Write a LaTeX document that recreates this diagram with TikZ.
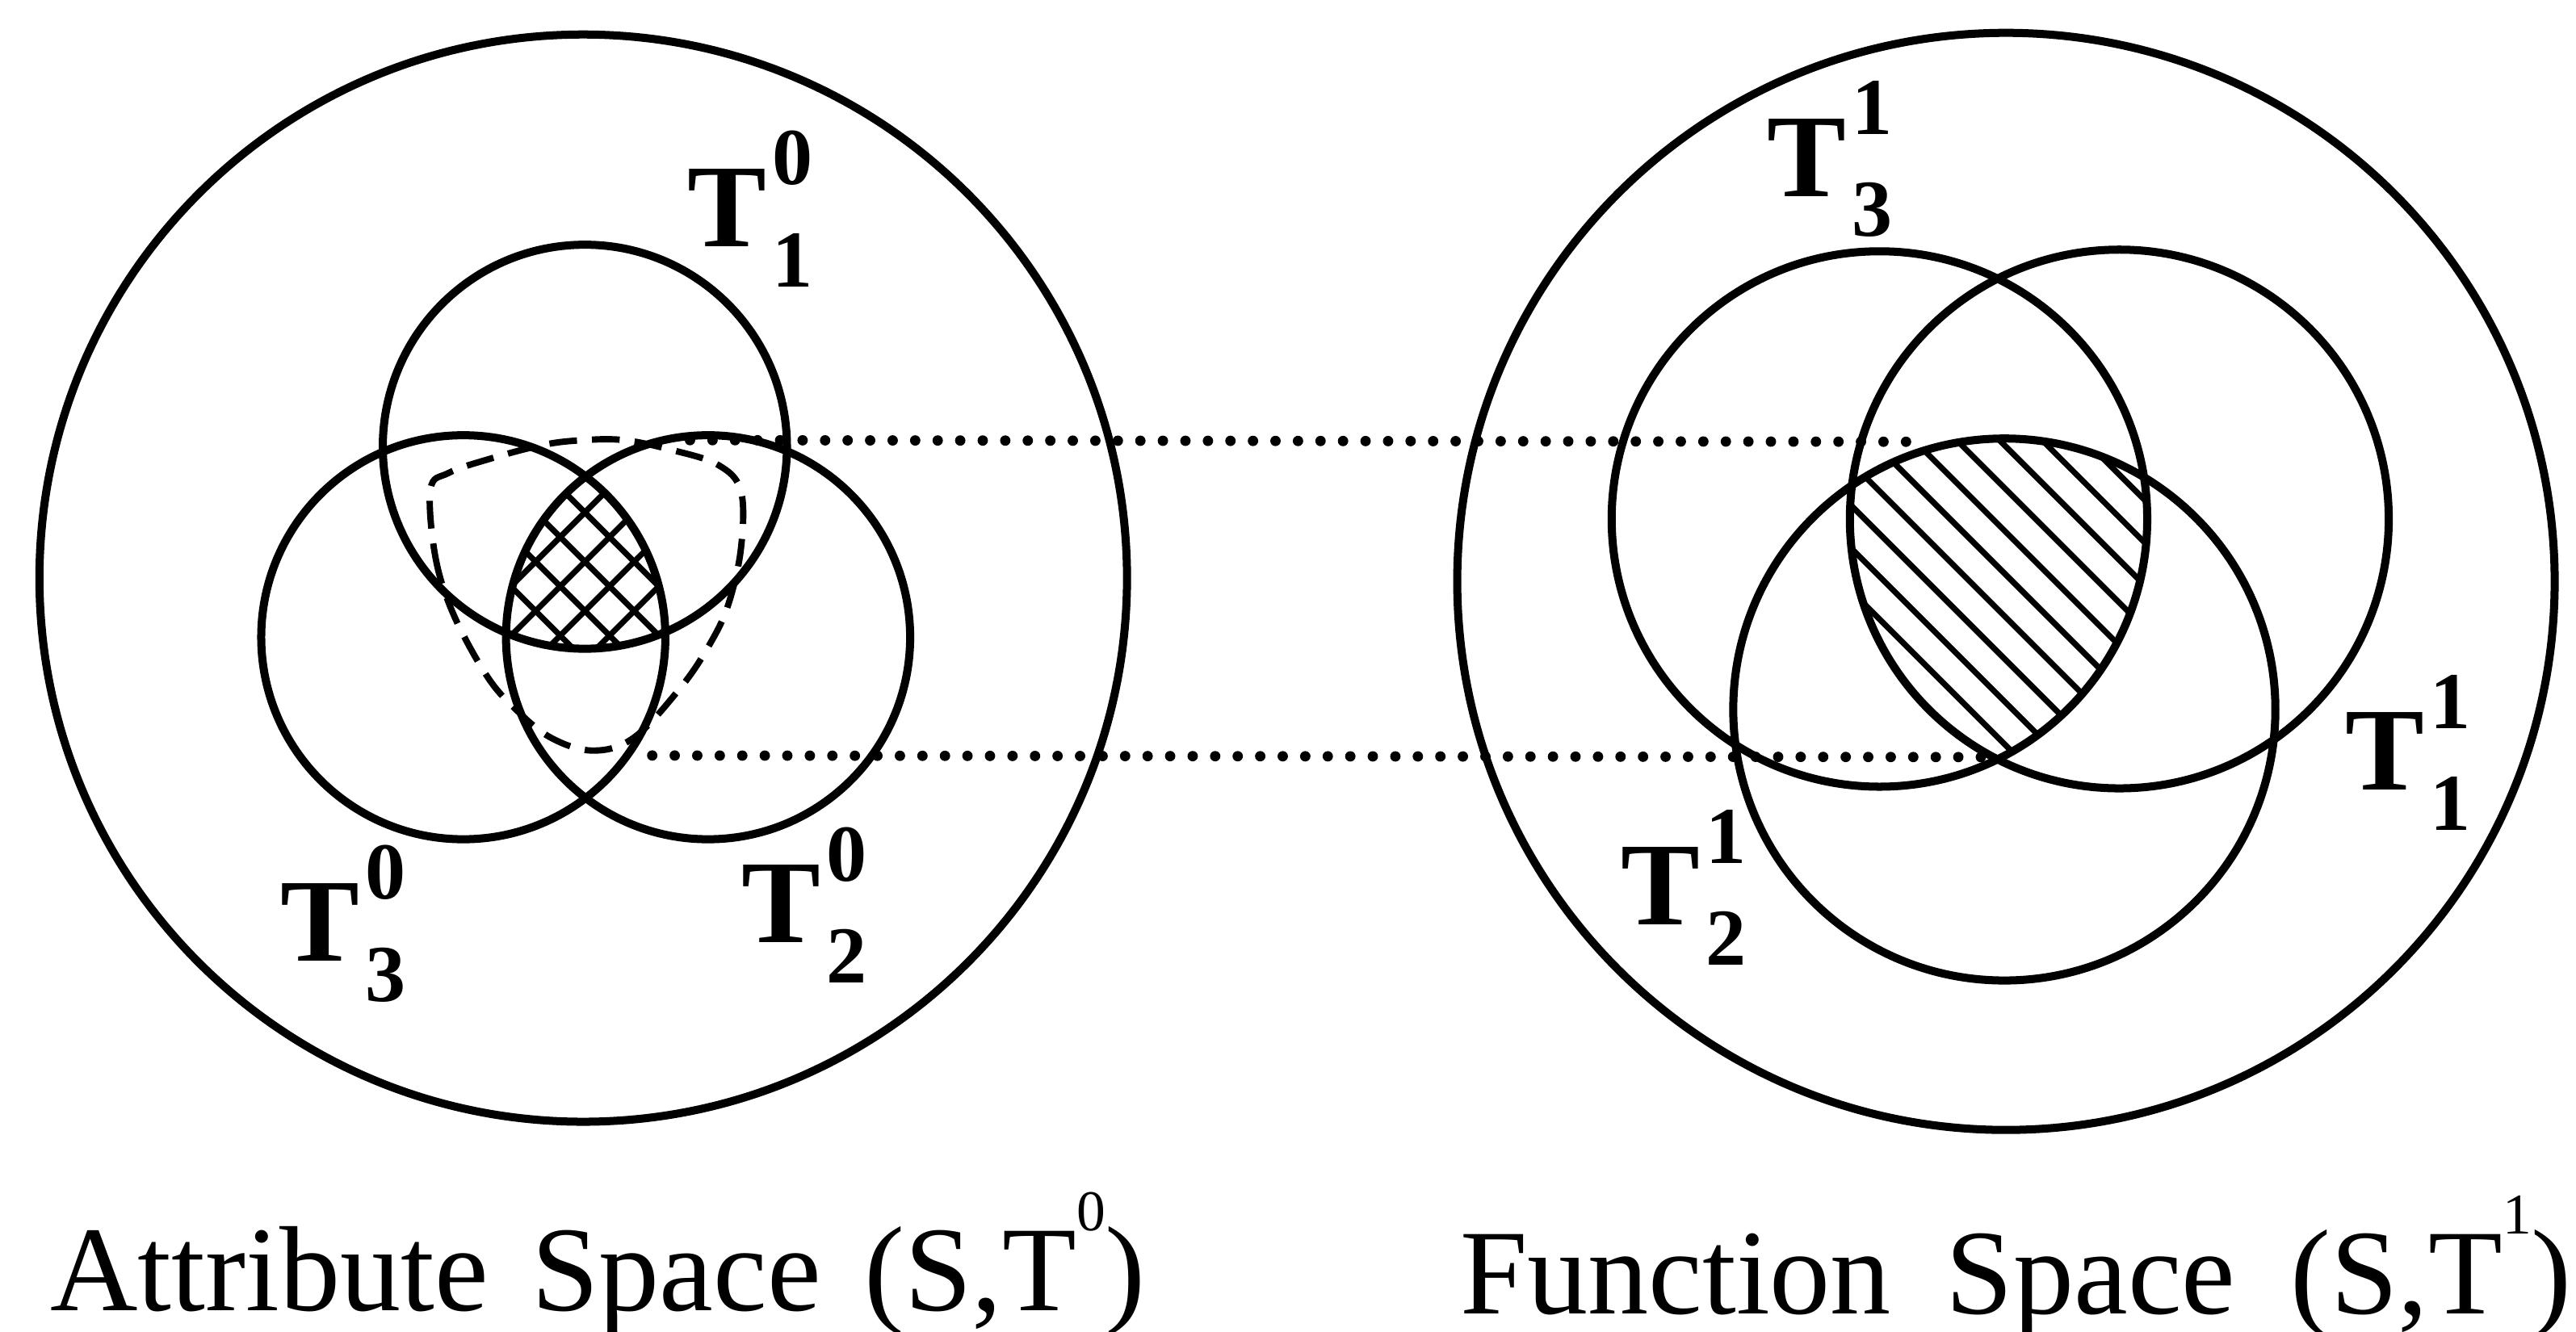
\documentclass[tikz,border=0pt]{standalone}
\usepackage{fontspec}
\setmainfont{Liberation Serif}
\usepackage{tikz}
\usetikzlibrary{arrows.meta,calc}

% T with raised and lowered index
\newcommand{\tlab}[2]{\textbf{T\kern1pt\rlap{\raisebox{0.52em}{\fontsize{14}{14}\selectfont #1}}\raisebox{-0.34em}{\fontsize{14}{14}\selectfont #2}}}
\newcommand{\capsup}[1]{\raisebox{0.66em}{\fontsize{10}{10}\selectfont #1}}

\begin{document}
\begin{tikzpicture}[>=Latex,
  venn/.style={line width=1.4pt},
  hatchline/.style={line width=1.0pt},
  dotline/.style={line width=1.8pt,line cap=round,dash pattern=on 0pt off 3.9pt},
  dashline/.style={line width=1.1pt,dash pattern=on 4.8pt off 2.6pt},
  lab/.style={anchor=base west,inner sep=0pt,font=\fontsize{20.5}{20.5}\selectfont},
  caption/.style={anchor=base west,inner sep=0pt,font=\fontsize{21}{21}\selectfont}]
\useasboundingbox (0,0) rectangle (15.68,-8.11);

% attribute space
\coordinate (attr) at (3.55,-3.52);
\coordinate (a1) at (3.56,-2.72);
\coordinate (a2) at (4.31,-3.88);
\coordinate (a3) at (2.82,-3.88);
\draw[venn] (attr) circle (3.31);
\draw[venn] (a1) circle (1.23);
\draw[venn] (a2) circle (1.23);
\draw[venn] (a3) circle (1.23);
\begin{scope}
\clip (a1) circle (1.23);
\clip (a2) circle (1.23);
\clip (a3) circle (1.23);
\foreach \k in {-5,...,5} {
  \draw[hatchline] (3.56+\k*0.3-1.5,-3.42-1.5) -- ++(3,3);
  \draw[hatchline] (3.56+\k*0.3-1.5,-3.42+1.5) -- ++(3,-3);
}
\end{scope}
\draw[dashline] plot[smooth cycle,tension=0.6] coordinates {(2.62,-2.98) (2.65,-3.39) (2.76,-3.74) (2.96,-4.11) (3.13,-4.31) (3.35,-4.49) (3.61,-4.57) (3.86,-4.49) (4.14,-4.19) (4.31,-3.94) (4.43,-3.69) (4.51,-3.34) (4.51,-2.99) (4.37,-2.83) (4.09,-2.74) (3.80,-2.68) (3.55,-2.68) (3.30,-2.71) (2.96,-2.80) (2.73,-2.88)};

% function space
\coordinate (func) at (12.21,-3.54);
\coordinate (f3) at (11.44,-3.16);
\coordinate (f1) at (12.90,-3.16);
\coordinate (f2) at (12.20,-4.32);
\draw[venn] (func) circle (3.34);
\draw[venn] (f3) circle (1.63);
\draw[venn] (f1) circle (1.64);
\draw[venn] (f2) circle (1.65);
\begin{scope}
\clip (f3) circle (1.63);
\clip (f1) circle (1.64);
\clip (f2) circle (1.65);
\foreach \k in {-9,...,9}
  \draw[hatchline] (12.33+\k*0.26-1.5,-3.62+1.5) -- ++(3,-3);
\end{scope}

% dotted links
\coordinate (atop) at (4.20,-2.68);
\coordinate (abot) at (3.97,-4.60);
\coordinate (ftop) at (11.70,-2.69);
\coordinate (fbot) at (12.12,-4.61);
\draw[dotline] (atop) -- (ftop);
\draw[dotline] (abot) -- (fbot);

% labels
\node[lab] (t10) at (4.18,-1.50) {\tlab{0}{1}};
\node[lab] (t30) at (1.70,-5.85) {\tlab{0}{3}};
\node[lab] (t20) at (4.51,-5.74) {\tlab{0}{2}};
\node[lab] (t31) at (10.75,-1.195) {\tlab{1}{3}};
\node[lab] (t11) at (14.27,-4.81) {\tlab{1}{1}};
\node[lab] (t21) at (9.86,-5.63) {\tlab{1}{2}};

\node[caption] (capattr) at (0.30,-7.98) {Attribute\hspace{7.5pt}Space\hspace{7.5pt}(S,T\capsup{0})};
\node[caption] (capfunc) at (8.88,-8.00) {Function\hspace{9.5pt}Space\hspace{9.5pt}(S,T\capsup{1})};
\end{tikzpicture}
\end{document}
